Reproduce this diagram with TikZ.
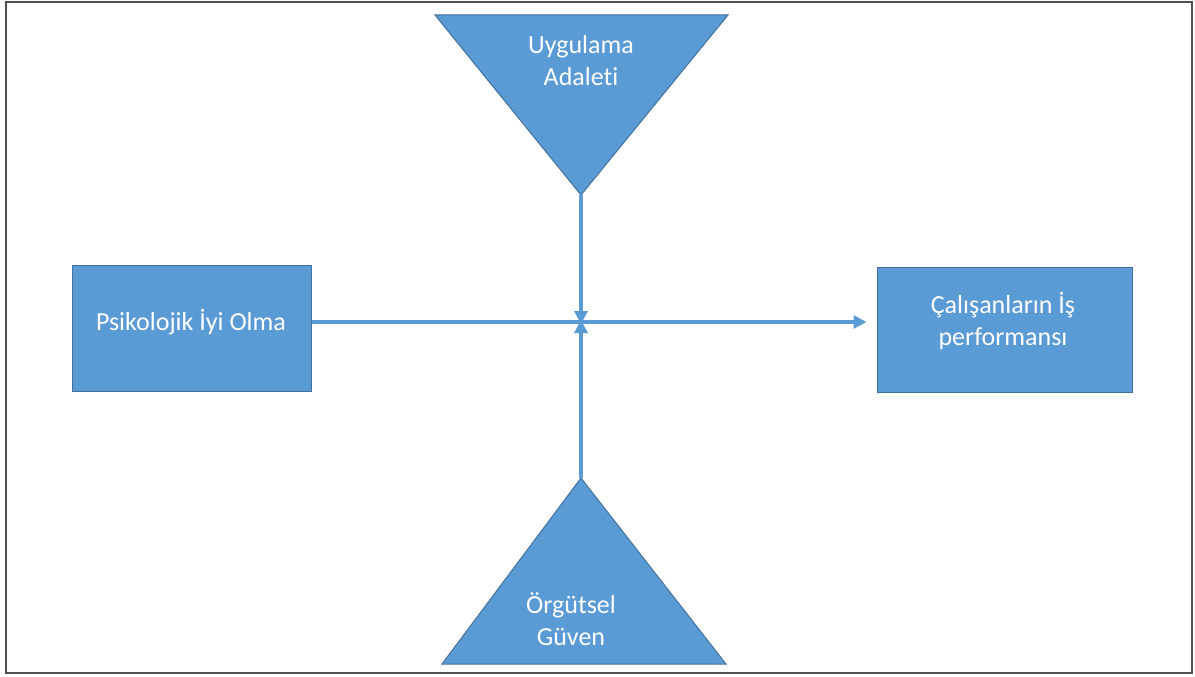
\documentclass[tikz,border=0pt]{standalone}
\usepackage{fontspec}
\setmainfont{Carlito}[Ligatures=NoCommon]
\usetikzlibrary{arrows.meta}
\definecolor{boxblue}{HTML}{5B9BD5}
\definecolor{edgeblue}{HTML}{41719C}
\definecolor{framegray}{HTML}{505050}
\tikzset{
  shapefill/.style={fill=boxblue, draw=edgeblue, line width=1pt},
  boxnode/.style={shapefill, minimum width=239pt, minimum height=126pt, inner sep=0pt},
  lbl/.style={text=white, font=\fontsize{26}{32}\selectfont, align=center, inner sep=0pt},
  conn/.style={draw=boxblue, line width=3.5pt, -{Triangle[length=13pt,width=13pt]}}
}
\begin{document}
\begin{tikzpicture}[x=1pt,y=-1pt]
\useasboundingbox (0,0) rectangle (1195,677);
\draw[framegray, line width=2pt] (6,2) rectangle (1192,673);
% triangles
\fill[shapefill] (435,15) -- (728,15) -- (581,195) -- cycle;
\coordinate (topapex) at (581,195);
\node[lbl] (ua) at (581,61) {Uygulama\\Adaleti};
\fill[shapefill] (442,664) -- (726,664) -- (581,478) -- cycle;
\coordinate (botapex) at (581,478);
\node[lbl] (og) at (571,619) {Örgütsel\\Güven};
% boxes
\node[boxnode] (piyi) at (191.5,328.5) {};
\node[lbl] (piyit) at (191,322) {Psikolojik İyi Olma};
\node[boxnode, minimum width=255pt, minimum height=125pt] (cal) at (1004.5,329.5) {};
\node[lbl] (calt) at (1003,321) {Çalışanların İş\\performansı};
\coordinate (mid) at (581,322);
% connectors
\draw[conn] (piyi.east |- mid) -- ([xshift=-10pt]cal.west |- mid);
\draw[conn] (topapex) -- ([yshift=-2pt]mid);
\draw[conn] (botapex) -- ([yshift=2pt]mid);
\end{tikzpicture}
\end{document}
